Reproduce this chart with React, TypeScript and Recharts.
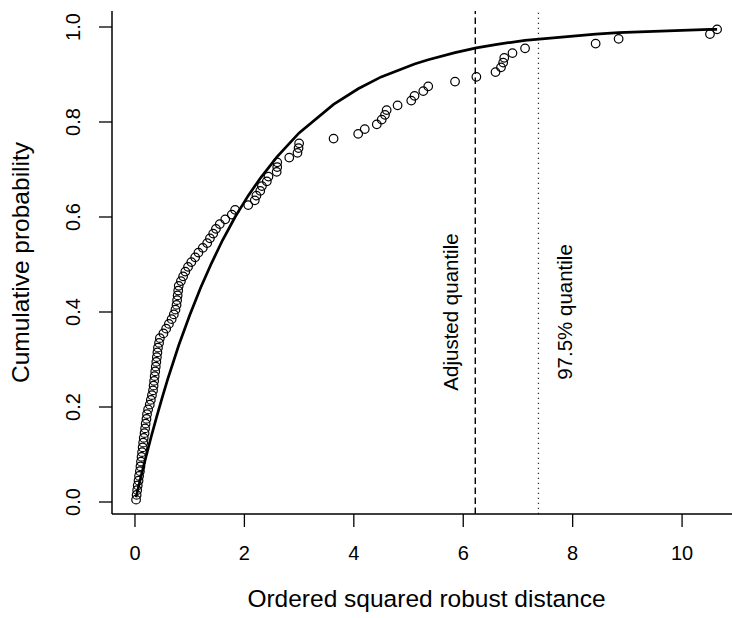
import React from 'react';
import {
  ScatterChart,
  Scatter,
  XAxis,
  YAxis,
  ReferenceLine,
  Label,
} from 'recharts';

// ordered squared robust distances
const distances = [
  0.02, 0.03, 0.04, 0.05, 0.065, 0.075, 0.09, 0.1, 0.11, 0.12,
  0.13, 0.14, 0.15, 0.16, 0.175, 0.185, 0.195, 0.21, 0.22, 0.24,
  0.27, 0.29, 0.31, 0.33, 0.34, 0.35, 0.36, 0.37, 0.38, 0.39,
  0.4, 0.41, 0.42, 0.44, 0.455, 0.52, 0.57, 0.62, 0.67, 0.71,
  0.74, 0.76, 0.77, 0.78, 0.79, 0.8, 0.84, 0.88, 0.92, 0.97,
  1.03, 1.1, 1.16, 1.24, 1.32, 1.37, 1.43, 1.48, 1.55, 1.65,
  1.77, 1.83, 2.07, 2.19, 2.22, 2.29, 2.32, 2.41, 2.44, 2.59,
  2.6, 2.6, 2.82, 2.97, 2.99, 3.0, 3.63, 4.08, 4.2, 4.42,
  4.51, 4.57, 4.6, 4.8, 5.05, 5.11, 5.27, 5.36, 5.85, 6.24,
  6.59, 6.69, 6.73, 6.75, 6.9, 7.13, 8.42, 8.84, 10.51, 10.64,
];

// empirical cumulative probabilities
const cumProb = [
  0.005, 0.015, 0.025, 0.035, 0.045, 0.055, 0.065, 0.075, 0.085, 0.095,
  0.105, 0.115, 0.125, 0.135, 0.145, 0.155, 0.165, 0.175, 0.185, 0.195,
  0.205, 0.215, 0.225, 0.235, 0.245, 0.255, 0.265, 0.275, 0.285, 0.295,
  0.305, 0.315, 0.325, 0.335, 0.345, 0.355, 0.365, 0.375, 0.385, 0.395,
  0.405, 0.415, 0.425, 0.435, 0.445, 0.455, 0.465, 0.475, 0.485, 0.495,
  0.505, 0.515, 0.525, 0.535, 0.545, 0.555, 0.565, 0.575, 0.585, 0.595,
  0.605, 0.615, 0.625, 0.635, 0.645, 0.655, 0.665, 0.675, 0.685, 0.695,
  0.705, 0.715, 0.725, 0.735, 0.745, 0.755, 0.765, 0.775, 0.785, 0.795,
  0.805, 0.815, 0.825, 0.835, 0.845, 0.855, 0.865, 0.875, 0.885, 0.895,
  0.905, 0.915, 0.925, 0.935, 0.945, 0.955, 0.965, 0.975, 0.985, 0.995,
];

// theoretical curve as drawn (polyline)
const curveX = [
  0.02, 0.1, 0.2, 0.3, 0.4, 0.5, 0.6, 0.8, 1.0, 1.2, 1.4, 1.6, 1.83, 2.07,
  2.3, 2.6, 3.0, 3.63, 4.08, 4.5, 5.11, 5.36, 5.85, 6.24, 6.59, 7.13, 8.42,
  8.84, 10.51, 10.64,
];
const curveY = [
  0.01, 0.049, 0.095, 0.139, 0.181, 0.221, 0.259, 0.33, 0.393, 0.451, 0.503,
  0.551, 0.6, 0.645, 0.683, 0.727, 0.777, 0.837, 0.87, 0.895, 0.922, 0.931,
  0.946, 0.956, 0.963, 0.972, 0.985, 0.988, 0.995, 0.995,
];

const adjustedQuantile = 6.22;
const quantile975 = 7.375;

const xTicks = [0, 2, 4, 6, 8, 10];
const yTicks = [0, 0.2, 0.4, 0.6, 0.8, 1.0];

const points = distances.map((x, i) => ({ x, y: cumProb[i] }));
const curve = curveX.map((x, i) => ({ x, y: curveY[i] }));

const FONT = '"Liberation Sans", Arial, Helvetica, sans-serif';
const Y_DOMAIN: [number, number] = [-0.02526, 1.03368];
const PLOT_TOP = 11;
const PLOT_H = 503;
const yPix = (v: number) =>
  PLOT_TOP + ((Y_DOMAIN[1] - v) / (Y_DOMAIN[1] - Y_DOMAIN[0])) * PLOT_H;

const Circle = (props: any) => (
  <circle cx={props.cx} cy={props.cy} r={4.3} fill="none" stroke="#000" strokeWidth={1.2} />
);

const NoDot = () => <g />;

const YTick = (props: any) => {
  const { x, y, payload } = props;
  return (
    <text
      x={x}
      y={y}
      transform={`rotate(-90 ${x} ${y})`}
      textAnchor="middle"
      fontSize={20}
      fontFamily={FONT}
      fill="#000"
    >
      {Number(payload.value).toFixed(1)}
    </text>
  );
};

const XTitle = (props: any) => {
  const vb = props.viewBox || { x: 112, y: 514, width: 629 };
  return (
    <text
      x={vb.x + vb.width / 2}
      y={vb.y + 93}
      textAnchor="middle"
      fontSize={24.5}
      fontFamily={FONT}
      fill="#000"
    >
      Ordered squared robust distance
    </text>
  );
};

const YTitle = (props: any) => {
  const vb = props.viewBox || { x: 0, y: 11, height: 503 };
  const cy = vb.y + vb.height / 2;
  return (
    <text
      x={29}
      y={cy}
      transform={`rotate(-90 29 ${cy})`}
      textAnchor="middle"
      fontSize={24.5}
      fontFamily={FONT}
      fill="#000"
    >
      Cumulative probability
    </text>
  );
};

const QuantileText = (text: string, dx: number) => (props: any) => {
  const vb = props.viewBox || { x: 0 };
  const x = vb.x + dx;
  const y = yPix(0.4);
  return (
    <text
      x={x}
      y={y}
      transform={`rotate(-90 ${x} ${y})`}
      textAnchor="middle"
      fontSize={20.5}
      fontFamily={FONT}
      fill="#000"
    >
      {text}
    </text>
  );
};

export default function App() {
  return (
    <div
      style={{
        position: 'fixed',
        top: 0,
        left: 0,
        width: 732,
        height: 618,
        overflow: 'hidden',
        background: '#fff',
      }}
    >
      <ScatterChart
        width={760}
        height={619}
        margin={{ top: PLOT_TOP, right: 19, left: 0, bottom: 0 }}
      >
        <XAxis
          xAxisId="top"
          orientation="top"
          type="number"
          dataKey="x"
          domain={[-0.42, 11.077]}
          height={0}
          tick={false}
          tickLine={false}
          axisLine={{ stroke: '#000', strokeWidth: 1.5 }}
        />
        <XAxis
          type="number"
          dataKey="x"
          domain={[-0.42, 11.077]}
          ticks={xTicks}
          interval={0}
          height={105}
          tickSize={13}
          tickMargin={19}
          tick={{ fontSize: 20, fill: '#000', fontFamily: FONT }}
          tickLine={{ stroke: '#000', strokeWidth: 1.3 }}
          axisLine={{ stroke: '#000', strokeWidth: 1.5 }}
        >
          <Label content={XTitle} />
        </XAxis>
        <YAxis
          type="number"
          dataKey="y"
          domain={Y_DOMAIN}
          ticks={yTicks}
          interval={0}
          width={112}
          tickSize={13}
          tickMargin={19}
          tick={YTick}
          tickLine={{ stroke: '#000', strokeWidth: 1.3 }}
          axisLine={{ stroke: '#000', strokeWidth: 1.5 }}
        >
          <Label content={YTitle} />
        </YAxis>
        <ReferenceLine
          x={adjustedQuantile}
          stroke="#000"
          strokeWidth={1.4}
          strokeDasharray="6.5 3.5"
          label={QuantileText('Adjusted quantile', -17)}
        />
        <ReferenceLine
          x={quantile975}
          stroke="#333"
          strokeWidth={1.3}
          strokeDasharray="1.3 3.7"
          label={QuantileText('97.5% quantile', 34)}
        />
        <Scatter
          data={curve}
          line={{ stroke: '#000', strokeWidth: 2.7 }}
          shape={NoDot}
          isAnimationActive={false}
        />
        <Scatter data={points} shape={Circle} isAnimationActive={false} />
      </ScatterChart>
    </div>
  );
}
